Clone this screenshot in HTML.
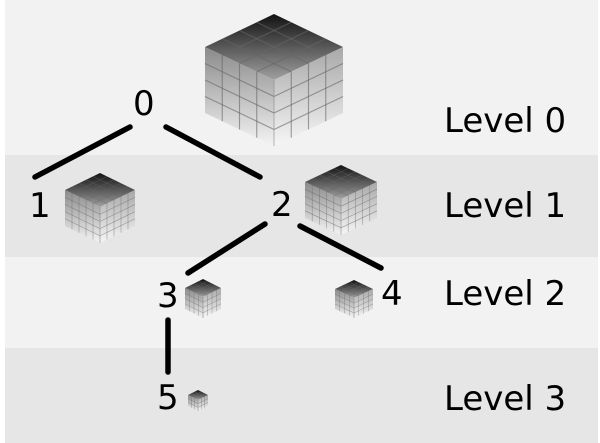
<!DOCTYPE html>
<html><head><style>
html,body{margin:0;padding:0;background:#fff;}
svg{display:block}
text{font-family:"DejaVu Sans","Liberation Sans",sans-serif;fill:#000}
</style></head><body>
<svg id="s" width="600" height="443" viewBox="0 0 600 443" xmlns="http://www.w3.org/2000/svg">
<defs>
<linearGradient id="gt" x1="0" y1="0" x2="0" y2="1"><stop offset="0" stop-color="#111"/><stop offset="1" stop-color="#a0a0a0"/></linearGradient>
<linearGradient id="gl" x1="0" y1="0" x2="0" y2="1"><stop offset="0" stop-color="#8a8a8a"/><stop offset="1" stop-color="#f4f4f4"/></linearGradient>
<linearGradient id="gr" x1="0" y1="0" x2="0" y2="1"><stop offset="0" stop-color="#a8a8a8"/><stop offset="1" stop-color="#f6f6f6"/></linearGradient>
</defs>
<rect x="5" y="0" width="593" height="155" fill="#f2f2f2"/>
<rect x="5" y="155" width="593" height="102" fill="#e6e6e6"/>
<rect x="5" y="257" width="593" height="91" fill="#f2f2f2"/>
<rect x="5" y="348" width="593" height="95" fill="#e6e6e6"/>
<g id="cubes"></g>
<g stroke="#000" stroke-width="5.5" stroke-linecap="round">
<line x1="130" y1="127" x2="35" y2="177"/>
<line x1="166" y1="127" x2="260" y2="177"/>
<line x1="265" y1="224" x2="188" y2="273"/>
<line x1="300" y1="226" x2="381" y2="268"/>
<line x1="168" y1="320" x2="168" y2="372"/>
</g>
<g font-size="34">
<text x="133" y="115">0</text>
<text x="29" y="217">1</text>
<text x="271" y="216">2</text>
<text x="157" y="307">3</text>
<text x="381" y="305">4</text>
<text x="157" y="409">5</text>
<text x="444" y="132">Level 0</text>
<text x="444" y="217">Level 1</text>
<text x="444" y="305">Level 2</text>
<text x="444" y="410">Level 3</text>
</g>
</svg>
<script>
var g=document.getElementById('cubes'),ns='http://www.w3.org/2000/svg';
function el(t,a){var e=document.createElementNS(ns,t);for(var k in a)e.setAttribute(k,a[k]);g.appendChild(e);}
function cube(cx,top,w,h,s,n){
 var cy=top+2*h;
 var T=[cx,top],L=[cx-w,top+h],C=[cx,cy],R=[cx+w,top+h];
 el('polygon',{points:[T,R,C,L].join(' '),fill:'url(#gt)'});
 el('polygon',{points:[L,C,[cx,cy+s],[cx-w,top+h+s]].join(' '),fill:'url(#gl)'});
 el('polygon',{points:[C,R,[cx+w,top+h+s],[cx,cy+s]].join(' '),fill:'url(#gr)'});
 var st={stroke:'#666','stroke-width':Math.max(0.5,w/60),'stroke-opacity':0.6};
 for(var i=1;i<n;i++){var f=i/n;
  line(T[0]+(L[0]-T[0])*f,T[1]+(L[1]-T[1])*f,R[0]+(C[0]-R[0])*f,R[1]+(C[1]-R[1])*f,st);
  line(T[0]+(R[0]-T[0])*f,T[1]+(R[1]-T[1])*f,L[0]+(C[0]-L[0])*f,L[1]+(C[1]-L[1])*f,st);
  var x=cx-w+w*f,y=top+h+h*f;line(x,y,x,y+s,st);
  line(cx-w,top+h+s*f,cx,cy+s*f,st);
  var x2=cx+w*f,y2=cy-h*f;line(x2,y2,x2,y2+s,st);
  line(cx,cy+s*f,cx+w,top+h+s*f,st);
 }
 line(cx,cy,cx,cy+s,{stroke:'#888','stroke-width':1,'stroke-opacity':0.6});
}
function line(a,b,c,d,st){var o={x1:a,y1:b,x2:c,y2:d};for(var k in st)o[k]=st[k];el('line',o);}
cube(274,14,69,33,66,4);
cube(100,173,35,17,36,5);
cube(341,165,36,17,36,5);
cube(203,279,18,9,21,4);
cube(354,280,19,9,20,4);
cube(198,390,10,5,11,3);
</script>
</body></html>
